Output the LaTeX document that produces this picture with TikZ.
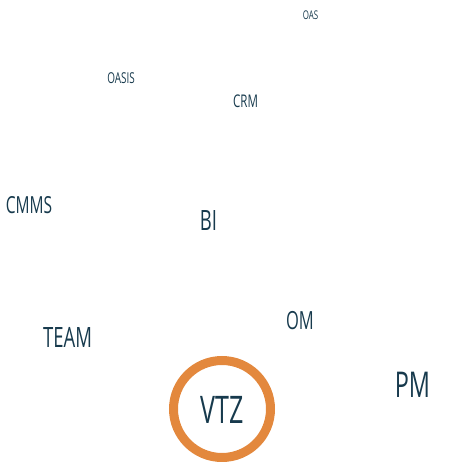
\documentclass[tikz,border=0pt]{standalone}
\usepackage{fontspec}
\setmainfont{Open Sans}[FakeStretch=0.66]
\usepackage{tikz}
\definecolor{navy}{HTML}{173A4D}
\definecolor{vtzorange}{HTML}{E3883D}
\tikzstyle{word} = [text=navy, inner sep=0pt, anchor=center]
\tikzstyle{hub} = [circle, 
draw=vtzorange, 
line width=9pt, 
minimum size=97pt, 
text=navy]

\begin{document}
\begin{tikzpicture}[x=1pt, y=-1pt]
\useasboundingbox (0,0) rectangle (453,462);

\node (vtz) [hub] at (222,409) {};
\node (vtzlabel) [word, font=\fontsize{38}{38}\selectfont] at (222,409.5) {VTZ};
\node (pm) [word, font=\fontsize{35.5}{35.5}\selectfont] at (412.5,384.5) {PM};
\node (om) [word, font=\fontsize{25}{25}\selectfont] at (300,320.5) {OM};
\node (team) [word, font=\fontsize{28}{28}\selectfont] at (67.5,337.5) {TEAM};
\node (bi) [word, font=\fontsize{28}{28}\selectfont] at (208.5,221) {BI};
\node (cmms) [word, font=\fontsize{23.5}{23.5}\selectfont] at (29,205.5) {CMMS};
\node (crm) [word, font=\fontsize{17.5}{17.5}\selectfont] at (245.5,101) {CRM};
\node (oasis) [word, font=\fontsize{15}{15}\selectfont] at (121,78) {OASIS};
\node (oas) [word, font=\fontsize{12}{12}\selectfont] at (310.5,15) {OAS};

\end{tikzpicture}
\end{document}
